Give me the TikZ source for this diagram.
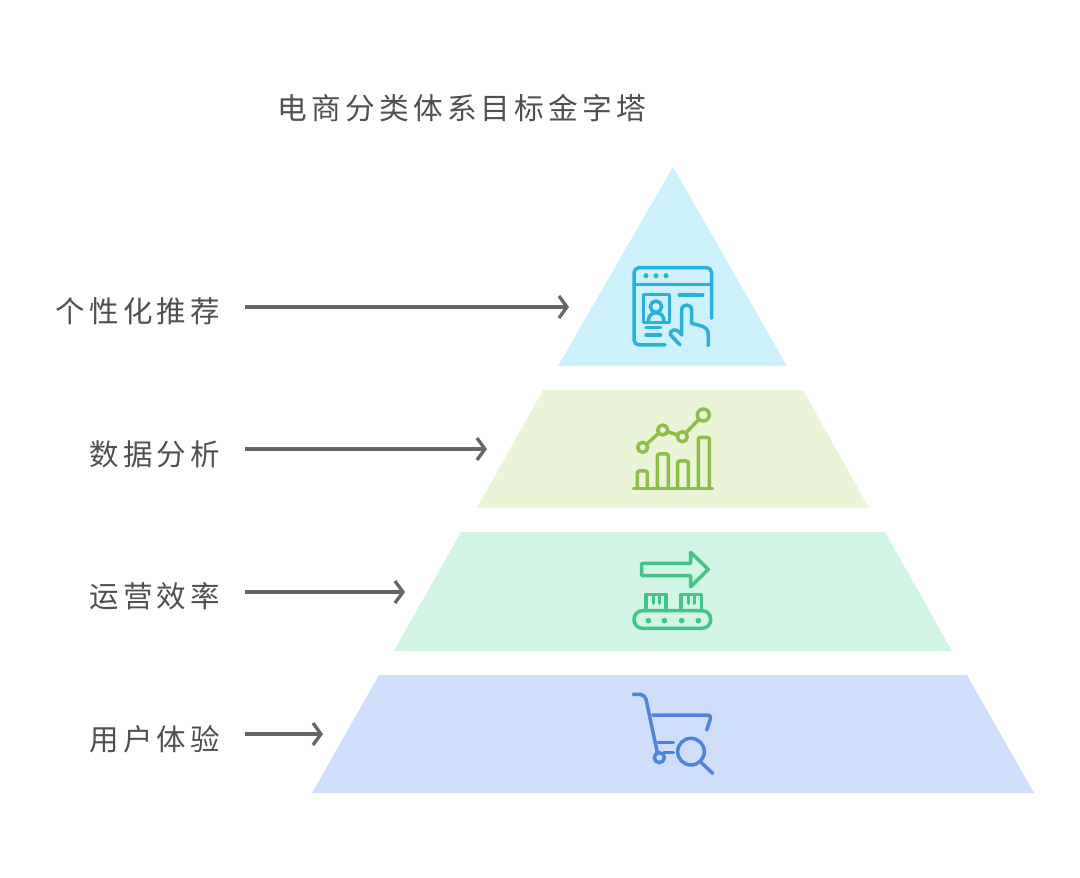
\documentclass[tikz,border=0pt]{standalone}
\usepackage{fontspec}
\usetikzlibrary{arrows.meta}
\newfontfamily\cjkfont[LetterSpace=14]{Noto Sans CJK SC}
\definecolor{txt}{HTML}{505050}
\definecolor{arr}{HTML}{666666}
\definecolor{lay1}{HTML}{CDF2FD}
\definecolor{lay2}{HTML}{EAF5D8}
\definecolor{lay3}{HTML}{D3F5E5}
\definecolor{lay4}{HTML}{CFDFFB}
\definecolor{ic1}{HTML}{2BB0DC}
\definecolor{ic2}{HTML}{8DBE4A}
\definecolor{ic3}{HTML}{43C585}
\definecolor{ic4}{HTML}{4F84DB}
\tikzset{
  lbl/.style={anchor=east,inner ysep=0pt,inner xsep=25pt,text=txt,font=\cjkfont\fontsize{29.5}{32}\selectfont},
  ttl/.style={anchor=center,inner sep=0pt,text=txt,font=\cjkfont\fontsize{29.7}{33}\selectfont},
  conn/.style={draw=arr,line width=3.3pt,-{Straight Barb[length=8pt,width=22pt,line width=3.3pt]}},
  icon/.style={line width=3.5pt,line cap=round,line join=round}
}
\begin{document}
\begin{tikzpicture}[x=1pt,y=-1pt]
\useasboundingbox (0,0) rectangle (1080,878);
\fill[white] (0,0) rectangle (1080,878);
\node[ttl] (title) at (462,108) {电商分类体系目标金字塔};
\fill[lay1] (673,167) -- (787,366) -- (558,366) -- cycle;
\fill[lay2] (543,390) -- (803,390) -- (869,508) -- (477,508) -- cycle;
\fill[lay3] (461,532) -- (885,532) -- (952,651) -- (394,651) -- cycle;
\fill[lay4] (379,675) -- (967,675) -- (1034,793) -- (312,793) -- cycle;
\node[lbl] (l1) at (245,311) {个性化推荐};
\node[lbl] (l2) at (245,454) {数据分析};
\node[lbl] (l3) at (245,596) {运营效率};
\node[lbl] (l4) at (245,739) {用户体验};
\coordinate (t1) at (569,307);
\coordinate (t2) at (487,449);
\coordinate (t3) at (405,592);
\coordinate (t4) at (323,734);
\draw[conn] (l1.east |- t1) -- (t1);
\draw[conn] (l2.east |- t2) -- (t2);
\draw[conn] (l3.east |- t3) -- (t3);
\draw[conn] (l4.east |- t4) -- (t4);
% icon 1
\begin{scope}[shift={(620,255)},x=0.3333pt,y=-0.3333pt,icon,draw=ic1]
\draw[rounded corners=5pt] (275,190) -- (275,38) -- (42,38) -- (42,270) -- (135,270);
\draw (42,88) -- (275,88);
\fill[ic1] (78,62) circle (7.5) (108,62) circle (7.5) (138,62) circle (7.5);
\draw (70,118) rectangle (148,203);
\draw (108,155) circle (17);
\draw (85,198) .. controls (85,165) and (132,165) .. (132,198);
\draw (178,120) -- (248,120);
\draw (78,218) -- (122,218) (78,240) -- (122,240);
\draw (180,270) -- (152,240) .. controls (145,225) and (170,215) .. (185,240) -- (185,165) .. controls (185,145) and (215,145) .. (215,165) -- (215,205) -- (245,213) .. controls (258,218) and (265,225) .. (265,240) -- (265,272);
\end{scope}
% icon 2
\begin{scope}[shift={(620,400)},x=0.3333pt,y=-0.3333pt,icon,draw=ic2]
\draw (40,265) -- (278,265);
\draw[rounded corners=2pt] (52,265) -- (52,213) -- (82,213) -- (82,265);
\draw[rounded corners=2pt] (112,265) -- (112,162) -- (145,162) -- (145,265);
\draw[rounded corners=2pt] (173,265) -- (173,183) -- (205,183) -- (205,265);
\draw[rounded corners=2pt] (235,265) -- (235,112) -- (268,112) -- (268,265);
\draw (68,142) circle (15) (128,90) circle (15) (187,110) circle (15) (250,45) circle (18);
\draw (80,132) -- (116,100) (142,95) -- (173,105) (198,98) -- (237,58);
\end{scope}
% icon 3
\begin{scope}[shift={(620,545)},x=0.3333pt,y=-0.3333pt,icon,draw=ic3]
\draw (65,55) -- (212,55) -- (212,22) -- (265,73) -- (212,125) -- (212,92) -- (65,92) -- cycle;
\draw (78,197) -- (78,148) -- (138,148) -- (138,197);
\draw (100,150) -- (100,175) (118,150) -- (118,175);
\draw (183,197) -- (183,148) -- (245,148) -- (245,197);
\draw (205,150) -- (205,175) (223,150) -- (223,175);
\draw[rounded corners=8.5pt] (42,197) rectangle (272,250);
\fill[ic3] (85,227) circle (8.5) (133,227) circle (8.5) (185,227) circle (8.5) (235,227) circle (8.5);
\end{scope}
% icon 4
\begin{scope}[shift={(620,685)},x=0.3333pt,y=-0.3333pt,icon,draw=ic4]
\draw[rounded corners=5pt] (40,28) -- (75,28) -- (112,203);
\draw[rounded corners=4pt] (98,90) -- (275,90) -- (260,135);
\draw (115,172) -- (160,172) (132,203) -- (160,203);
\draw (118,218) circle (15);
\draw (213,200) circle (40);
\draw (243,232) -- (278,265);
\end{scope}
\end{tikzpicture}
\end{document}
